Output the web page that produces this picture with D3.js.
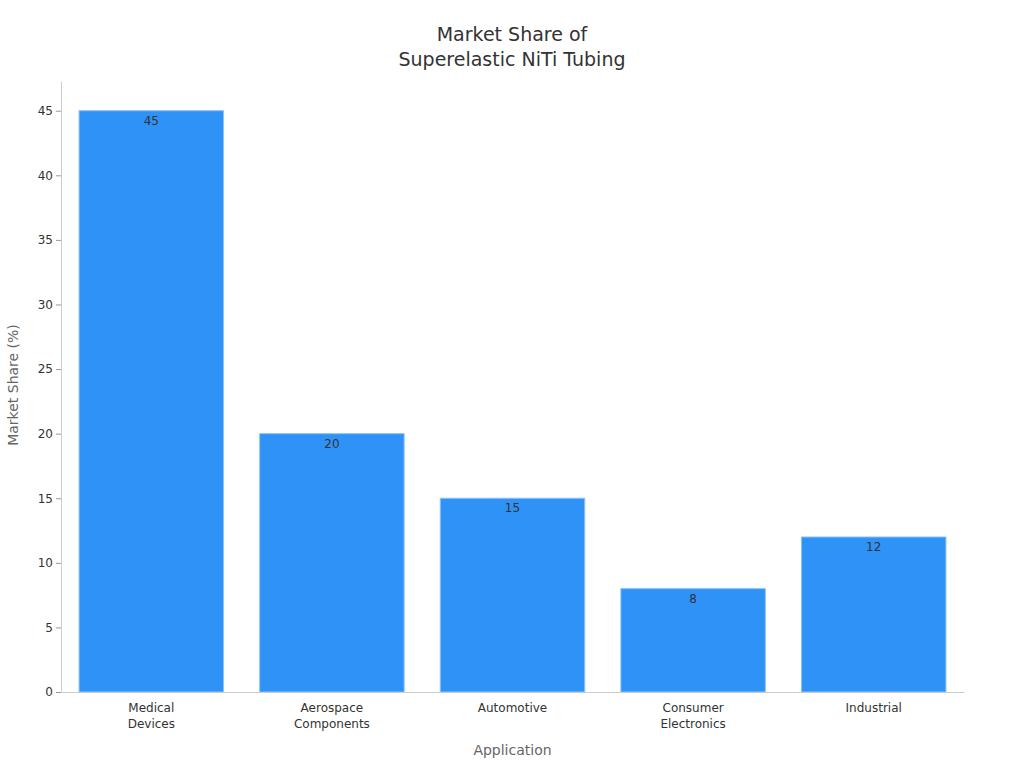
<!DOCTYPE html>
<html>
<head>
<meta charset="utf-8">
<script src="https://cdn.jsdelivr.net/npm/d3@7"></script>
<style>
  body { margin: 0; background: #fff; font-family: "DejaVu Sans", sans-serif; }
</style>
</head>
<body>
<svg id="chart" width="1024" height="768"></svg>
<script>
const categories = [["Medical", "Devices"], ["Aerospace", "Components"], ["Automotive"], ["Consumer", "Electronics"], ["Industrial"]];
const shares = [45, 20, 15, 8, 12];
const yTicks = [0, 5, 10, 15, 20, 25, 30, 35, 40, 45];

const svg = d3.select('#chart');
const plotLeft = 61, plotRight = 964, plotTop = 81, plotBottom = 692;

let x = d3.scaleBand().domain(d3.range(categories.length)).range([plotLeft, plotRight])
    .paddingInner(0.2).paddingOuter(0.1);
let y = d3.scaleLinear().domain([0, 47.3]).range([plotBottom, plotTop]);

// title
svg.append('text').attr('x', 512).attr('y', 41).attr('text-anchor', 'middle')
    .attr('font-size', 19).attr('fill', '#333')
    .selectAll('tspan').data(['Market Share of', 'Superelastic NiTi Tubing']).enter()
    .append('tspan').attr('x', 512).attr('dy', (d, i) => i ? 25 : 0).text(d => d);

// bars
svg.append('g').selectAll('rect').data(shares).enter().append('rect')
    .attr('x', (d, i) => x(i)).attr('width', x.bandwidth())
    .attr('y', d => y(d)).attr('height', d => plotBottom - y(d))
    .attr('fill', '#2f92f6').attr('stroke', '#8cc2f8').attr('stroke-width', 1);

svg.append('g').selectAll('text').data(shares).enter().append('text')
    .attr('x', (d, i) => x(i) + x.bandwidth() / 2).attr('y', d => y(d) + 14)
    .attr('text-anchor', 'middle').attr('font-size', 12).attr('fill', '#333')
    .text(d => d);

// y axis
let yAxis = svg.append('g').attr('transform', `translate(${plotLeft},0)`)
    .call(d3.axisLeft(y).tickValues(yTicks).tickSize(5).tickSizeOuter(0));
yAxis.select('.domain').attr('stroke', '#ccc');
yAxis.selectAll('.tick line').attr('stroke', '#999');
yAxis.selectAll('.tick text').attr('font-size', 12).attr('fill', '#333')
    .attr('font-family', '"DejaVu Sans", sans-serif');

// x axis
let xAxis = svg.append('g').attr('transform', `translate(0,${plotBottom})`)
    .call(d3.axisBottom(x).tickSize(0).tickSizeOuter(0).tickFormat(''));
xAxis.select('.domain').attr('stroke', '#ccc');
xAxis.selectAll('.tick').append('text')
    .attr('text-anchor', 'middle').attr('font-size', 12).attr('fill', '#333')
    .attr('font-family', '"DejaVu Sans", sans-serif')
    .selectAll('tspan').data(i => categories[i]).enter().append('tspan')
    .attr('x', 0).attr('y', (d, j) => 20 + j * 16).text(d => d);

// axis titles
svg.append('text').attr('x', (plotLeft + plotRight) / 2).attr('y', 755).attr('text-anchor', 'middle')
    .attr('font-size', 14).attr('fill', '#666').text('Application');
svg.append('text').attr('transform', `translate(18,385) rotate(-90)`)
    .attr('text-anchor', 'middle').attr('font-size', 14).attr('fill', '#666').text('Market Share (%)');
</script>
</body>
</html>
